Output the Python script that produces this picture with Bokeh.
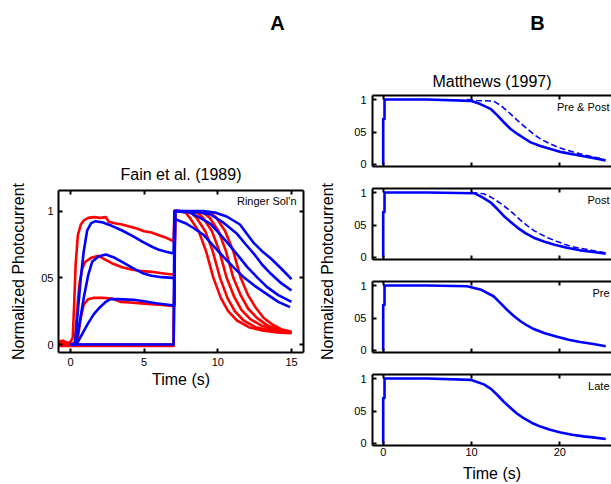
from bokeh.plotting import figure
from bokeh.models import LinearAxis, FixedTicker, Label, Range1d, Title
from bokeh.layouts import row, column
from bokeh.embed import file_html
from bokeh.resources import INLINE

FONT = "Liberation Sans"

# ---------------- Panel A : Fain et al. (1989) ----------------
a_title = "Fain et al. (1989)"
a_note = "Ringer Sol'n"
a_xticks = [0, 5, 10, 15]
a_yticks = [0, 0.5, 1]
y_tick_labels = {0: "0", 0.5: "05", 1: "1"}

# measured traces (red): pre-step part, jump at 7 s, recovery
red1_t = [-0.8, -0.5, -0.2, 0.0, 0.15, 0.25, 0.35, 0.5, 0.7, 0.9, 1.2, 1.6, 2.0, 2.4, 2.6, 3.0, 3.5, 4.0, 4.5, 5.0, 5.5, 6.0, 6.5, 6.9, 7.0,
          7.05, 7.2, 7.8, 8.1, 8.7, 9.2, 9.7, 10.2, 10.7, 11.3, 12.1, 13.0, 14.0, 15.0]
red1_v = [0.02, 0.03, 0.01, 0.02, 0.05, 0.3, 0.6, 0.82, 0.9, 0.93, 0.95, 0.955, 0.95, 0.955, 0.92, 0.91, 0.9, 0.885, 0.87, 0.85, 0.84, 0.82, 0.8, 0.78, 0.77,
          1.0, 1.0, 0.99, 0.95, 0.85, 0.7, 0.5, 0.35, 0.25, 0.18, 0.13, 0.105, 0.09, 0.085]

red2_t = [-0.8, -0.4, 0.0, 0.3, 0.45, 0.6, 0.8, 1.0, 1.4, 1.9, 2.3, 2.8, 3.5, 4.2, 4.9, 5.5, 6.2, 6.9, 7.05,
          7.1, 7.2, 8.2, 8.55, 9.15, 9.65, 10.15, 10.65, 11.15, 11.75, 12.55, 13.4, 14.2, 15.0]
red2_v = [0.01, 0.02, 0.0, 0.02, 0.25, 0.45, 0.57, 0.62, 0.65, 0.665, 0.64, 0.61, 0.58, 0.56, 0.55, 0.545, 0.535, 0.525, 0.53,
          1.0, 1.0, 0.99, 0.95, 0.85, 0.7, 0.5, 0.35, 0.25, 0.18, 0.13, 0.11, 0.095, 0.09]

red3_t = [-0.8, -0.3, 0.3, 0.5, 0.7, 0.9, 1.2, 1.6, 2.2, 2.8, 3.4, 4.0, 4.6, 5.2, 5.8, 6.4, 6.9, 7.05,
          7.1, 7.2, 8.6, 9.0, 9.6, 10.1, 10.6, 11.1, 11.6, 12.2, 13.0, 13.8, 14.4, 15.0]
red3_v = [0.0, 0.01, 0.0, 0.05, 0.2, 0.3, 0.34, 0.35, 0.35, 0.345, 0.32, 0.315, 0.31, 0.305, 0.3, 0.295, 0.29, 0.29,
          1.0, 1.0, 0.99, 0.95, 0.85, 0.7, 0.5, 0.36, 0.26, 0.19, 0.14, 0.115, 0.1, 0.09]

red4_t = [-0.8, 0.0, 3.0, 7.0, 7.1, 7.2, 9.0, 9.45, 10.05, 10.55, 11.05, 11.55, 12.05, 12.65, 13.4, 14.1, 15.0]
red4_v = [-0.01, -0.01, -0.01, -0.01, 1.0, 1.0, 0.99, 0.95, 0.85, 0.7, 0.5, 0.37, 0.27, 0.2, 0.14, 0.11, 0.09]

red5_t = [-0.8, 0.0, 4.0, 7.0, 7.1, 7.2, 9.5, 9.9, 10.5, 11.05, 11.55, 12.05, 12.55, 13.1, 13.7, 14.3, 15.0]
red5_v = [0.0, 0.0, 0.0, 0.0, 1.0, 1.0, 0.99, 0.95, 0.85, 0.7, 0.5, 0.37, 0.28, 0.2, 0.15, 0.115, 0.095]

# model traces (blue)
blue1_t = [0.0, 0.3, 0.5, 0.7, 0.9, 1.13, 1.4, 1.7, 2.2, 2.8, 3.5, 4.2, 4.9, 5.5, 6.0, 6.5, 6.9, 7.0,
           7.05, 7.2, 7.8, 8.4, 9.05, 9.7, 10.4, 11.1, 11.8, 12.5, 13.3, 14.1, 14.9]
blue1_v = [0.0, 0.0, 0.25, 0.5, 0.7, 0.855, 0.91, 0.925, 0.915, 0.89, 0.855, 0.815, 0.77, 0.735, 0.71, 0.695, 0.685, 0.69,
           0.93, 0.935, 0.91, 0.87, 0.82, 0.74, 0.655, 0.575, 0.5, 0.44, 0.38, 0.32, 0.28]

blue2_t = [0.0, 0.35, 0.6, 0.9, 1.2, 1.47, 1.9, 2.4, 3.0, 3.5, 4.2, 4.9, 5.5, 6.2, 6.9, 7.05,
           7.1, 7.3, 8.1, 8.8, 9.5, 10.2, 10.9, 11.5, 12.0, 12.7, 13.35, 14.1, 15.0]
blue2_v = [0.0, 0.0, 0.15, 0.35, 0.52, 0.62, 0.66, 0.675, 0.65, 0.62, 0.575, 0.535, 0.515, 0.505, 0.5, 0.5,
           1.0, 1.0, 0.99, 0.95, 0.905, 0.82, 0.73, 0.65, 0.58, 0.5, 0.43, 0.37, 0.32]

blue3_t = [0.0, 0.4, 0.8, 1.2, 1.6, 2.0, 2.4, 2.7, 3.2, 4.3, 5.0, 5.8, 6.9, 7.05,
           7.1, 7.3, 8.5, 9.5, 10.3, 11.3, 11.9, 12.45, 13.0, 13.6, 14.3, 15.0]
blue3_v = [0.0, 0.0, 0.08, 0.16, 0.23, 0.28, 0.32, 0.34, 0.34, 0.335, 0.325, 0.31, 0.295, 0.3,
           1.0, 1.0, 0.995, 0.975, 0.92, 0.83, 0.75, 0.68, 0.6, 0.53, 0.46, 0.405]

blue4_t = [0.0, 7.0, 7.05, 7.3, 9.0, 9.8, 10.6, 11.5, 12.45, 13.0, 13.6, 14.3, 15.0]
blue4_v = [0.0, 0.0, 1.0, 1.0, 1.0, 0.99, 0.96, 0.9, 0.76, 0.7, 0.645, 0.57, 0.49]

# ---------------- Panel B : Matthews (1997) ----------------
b_title = "Matthews (1997)"
b_xticks = [0, 10, 20]
b_notes = ["Pre & Post", "Post", "Pre", "Late"]

b1_t = [0, 0, 0.15, 0.15, 5, 9.9, 11.0, 12.15, 12.9, 13.66, 14.4, 15.2, 16.0, 16.7, 17.8, 18.95, 20.2, 21.6, 23.0, 24.2, 25.2]
b1_v = [0, 0.7, 0.7, 1.0, 1.0, 0.98, 0.93, 0.857, 0.76, 0.65, 0.55, 0.47, 0.4, 0.34, 0.285, 0.24, 0.19, 0.155, 0.12, 0.09, 0.06]
b1d_t = [9.5, 10.6, 12.5, 13.3, 14.0, 14.8, 15.5, 16.3, 17.0, 17.8, 18.7, 19.7, 20.8, 22.0, 23.0, 24.0, 25.0]
b1d_v = [1.0, 0.985, 0.975, 0.91, 0.83, 0.73, 0.64, 0.55, 0.47, 0.395, 0.33, 0.27, 0.22, 0.175, 0.14, 0.11, 0.08]

b2_t = [0, 0, 0.15, 0.15, 5, 10.3, 11.2, 12.15, 12.9, 13.66, 14.4, 15.2, 16.1, 17.05, 18.2, 19.3, 20.8, 22.3, 23.8, 25.2]
b2_v = [0, 0.7, 0.7, 1.0, 1.0, 0.99, 0.93, 0.85, 0.75, 0.64, 0.55, 0.46, 0.375, 0.305, 0.245, 0.2, 0.15, 0.11, 0.085, 0.06]
b2d_t = [10.0, 11.4, 12.2, 13.1, 14.0, 14.8, 15.5, 16.3, 17.0, 17.8, 18.7, 19.7, 20.6, 21.6, 22.8, 24.0, 25.2]
b2d_v = [1.0, 0.98, 0.93, 0.85, 0.76, 0.67, 0.58, 0.49, 0.42, 0.36, 0.3, 0.245, 0.2, 0.16, 0.13, 0.1, 0.07]

b3_t = [0, 0, 0.15, 0.15, 5, 9.5, 11.0, 12.5, 13.2, 14.0, 14.8, 15.55, 16.3, 17.05, 18.3, 19.7, 21.0, 22.3, 23.8, 25.2]
b3_v = [0, 0.7, 0.7, 1.0, 1.0, 0.99, 0.94, 0.835, 0.74, 0.63, 0.53, 0.45, 0.385, 0.33, 0.265, 0.21, 0.165, 0.13, 0.1, 0.066]

b4_t = [0, 0, 0.15, 0.15, 5, 9.9, 11.4, 12.2, 12.9, 13.6, 14.4, 15.1, 15.9, 16.8, 17.8, 18.9, 20.1, 21.4, 22.7, 24.0, 25.2]
b4_v = [0, 0.7, 0.7, 1.0, 1.0, 0.98, 0.91, 0.84, 0.75, 0.65, 0.55, 0.465, 0.39, 0.32, 0.26, 0.21, 0.17, 0.135, 0.11, 0.09, 0.07]

x_label = "Time (s)"
y_label = "Normalized Photocurrent"
panel_letters = ["A", "B"]


def axis(ticks, labels=True, overrides=None):
    ax = LinearAxis(ticker=FixedTicker(ticks=ticks))
    ax.axis_line_width = 2
    ax.axis_line_color = "black"
    ax.major_tick_in = 4
    ax.major_tick_out = 0
    ax.major_tick_line_width = 2
    ax.major_tick_line_color = "black"
    ax.minor_tick_line_color = None
    ax.major_label_text_font = FONT
    ax.major_label_text_font_size = "11px"
    ax.major_label_text_color = "black"
    ax.axis_label_text_font = FONT
    ax.axis_label_text_font_size = "16px"
    ax.axis_label_text_font_style = "normal"
    ax.axis_label_text_color = "black"
    if overrides:
        ax.major_label_overrides = overrides
    if not labels:
        ax.major_label_text_color = None
        ax.major_label_text_font_size = "0px"
        ax.major_label_standoff = 0
    return ax


def title(text, size, align="center", offset=0, standoff=5, bold=False):
    return Title(text=text, text_font=FONT, text_font_size=size, align=align, offset=offset,
                 standoff=standoff, text_font_style="bold" if bold else "normal", text_color="black")


def label(p, x, y, text, size, align="center", bold=False):
    p.add_layout(Label(x=x, y=y, text=text, text_font=FONT, text_font_size=size,
                       text_align=align, text_baseline="middle", text_color="black",
                       text_font_style="bold" if bold else "normal"))


def base_fig(w, h, xr, yr, left, right, top, bottom):
    p = figure(width=w, height=h, x_range=Range1d(*xr), y_range=Range1d(*yr),
               x_axis_type=None, y_axis_type=None, toolbar_location=None, output_backend="svg",
               title_location=None,
               min_border_left=left, min_border_right=right, min_border_top=top, min_border_bottom=bottom)
    p.outline_line_color = None
    p.background_fill_color = "white"
    p.border_fill_color = "white"
    return p


# ---- header strip with the panel letters (pixel-scaled ranges) ----
header = base_fig(611, 40, (0, 611), (40, 0), 0, 0, 0, 0)
label(header, 277, 22, panel_letters[0], "20px", bold=True)
label(header, 537, 22, panel_letters[1], "20px", bold=True)

# ---- figure A ----
pa = base_fig(315, 444, (-0.814, 15.814), (-0.06, 1.155), 58, 12, 150, 132)

ax_l = axis(a_yticks, True, y_tick_labels)
ax_l.major_label_standoff = 5
ax_l.axis_label = y_label
ax_l.axis_label_standoff = 11
pa.add_layout(ax_l, "left")
pa.add_layout(axis(a_yticks, False), "right")
ax_b = axis(a_xticks, True)
ax_b.major_label_standoff = 5
ax_b.axis_label = x_label
ax_b.axis_label_standoff = 2
pa.add_layout(ax_b, "below")
pa.add_layout(axis(a_xticks, False), "above")
pa.add_layout(title(a_title, "16px", standoff=15), "above")

for t, v in [(red1_t, red1_v), (red2_t, red2_v), (red3_t, red3_v), (red4_t, red4_v), (red5_t, red5_v)]:
    pa.line(t, v, line_color="#ff0000", line_width=2.6, line_join="round")
for t, v in [(blue1_t, blue1_v), (blue2_t, blue2_v), (blue3_t, blue3_v), (blue4_t, blue4_v)]:
    pa.line(t, v, line_color="#0000ff", line_width=2.6, line_join="round")

label(pa, 15.34, 1.075, a_note, "11px", align="right")

# ---- strip holding the shared y label of panel B ----
strip = base_fig(27, 444, (0, 1), (0, 1), 0, 0, 150, 132)
strip.add_layout(title(y_label, "16px", standoff=2), "left")

# ---- figures B ----
b_series = [(b1_t, b1_v, b1d_t, b1d_v), (b2_t, b2_v, b2d_t, b2d_v), (b3_t, b3_v, None, None), (b4_t, b4_v, None, None)]
b_heights = [136, 93, 93, 122]
b_top = [55, 12, 12, 12]
b_bottom = [10, 10, 10, 39]
b_figs = []
for i, (t, v, dt, dv) in enumerate(b_series):
    last = i == 3
    p = base_fig(269, b_heights[i], (-1.212, 25.855), (-0.031, 1.062), 30, 0, b_top[i], b_bottom[i])
    yl = axis(a_yticks, True, y_tick_labels)
    yl.major_label_standoff = 6
    p.add_layout(yl, "left")
    xb = axis(b_xticks, last)
    if last:
        xb.major_label_standoff = 2
        xb.axis_label = x_label
        xb.axis_label_standoff = 6
    p.add_layout(xb, "below")
    p.add_layout(axis(b_xticks, False), "above")
    if i == 0:
        p.add_layout(title(b_title, "16px", standoff=12), "above")
    p.line(t, v, line_color="#0000ff", line_width=2.6, line_join="round")
    if dt is not None:
        p.line(dt, dv, line_color="#0000ff", line_width=1.6, line_dash="6 3")
    label(p, 25.63, 0.89, b_notes[i], "11px", align="right")
    b_figs.append(p)

layout = column(header, row(pa, strip, column(*b_figs, spacing=0), spacing=0), spacing=0)

open("out.html", "w").write(file_html(layout, INLINE))
